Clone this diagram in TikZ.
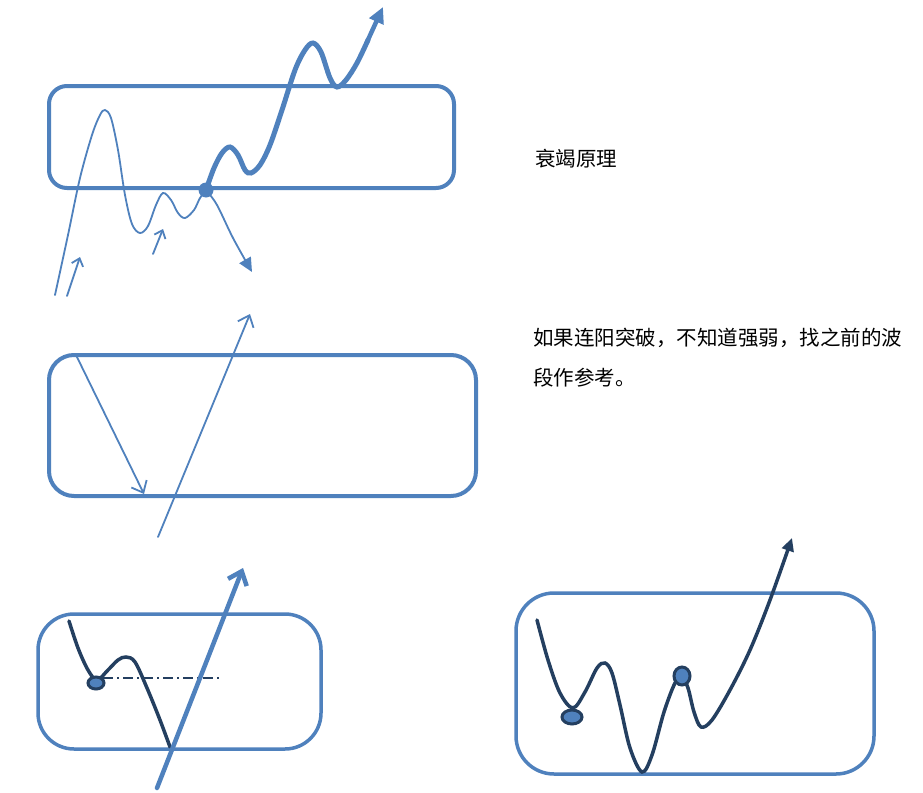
\documentclass[tikz,border=0pt]{standalone}
\usepackage{fontspec}
\newfontfamily\cjk{Noto Sans CJK SC}
\usetikzlibrary{arrows.meta}
\definecolor{ob}{RGB}{79,129,189}
\definecolor{db}{RGB}{36,63,96}
\tikzset{
  boxline/.style={draw=ob, line width=4pt},
  thinblue/.style={draw=ob, line width=1.8pt, line cap=round},
  thickblue/.style={draw=ob, line width=4.5pt, line cap=round},
  darkline/.style={draw=db, line width=3.5pt, line cap=round},
  openhead/.style={-{Straight Barb[length=10pt,width=17pt]}},
  smallhead/.style={-{Straight Barb[length=7pt,width=12pt]}},
  lbl/.style={font=\cjk\fontsize{20.5}{40}\selectfont, anchor=base west, inner sep=0pt, text=black},
  dotmark/.style={fill=ob, draw=db, line width=3pt}
}
\begin{document}
\begin{tikzpicture}[x=1pt,y=-1pt]
\useasboundingbox[fill=white] (0,0) rectangle (923,792);

% ---------- panel 1 ----------
\draw[boxline, rounded corners=18pt] (49,86) rectangle (454,188);
\draw[thinblue] plot[smooth,tension=0.55] coordinates {(55,295) (68,235) (80,178) (92,135) (100,115) (105,110) (111,118) (118,150) (125,195) (132,224) (140,233) (148,226) (156,205) (163,193) (171,200) (178,213) (185,218) (194,210) (200,198) (206,190)};
\draw[thinblue, -{Triangle[length=14pt,width=13pt]}] plot[smooth,tension=0.55] coordinates {(206,190) (217,205) (233,238) (252,272)};
\draw[thickblue, line width=5pt] plot[smooth,tension=0.55] coordinates {(206,190) (214,168) (222,153) (230,147) (238,155) (245,170) (251,173) (260,165) (270,145) (282,110) (295,70) (305,50) (313,43) (321,52) (330,78) (337,87) (346,80) (357,63) (368,40)};
\draw[thickblue, line width=4.5pt, -{Triangle[length=16pt,width=15pt]}] (367,42) -- (383,7);
\fill[ob] (206,190) circle (7.5pt);
\draw[thinblue, smallhead] (67,296) -- (80,257);
\draw[thinblue, smallhead] (153,254) -- (163,229);

% ---------- panel 2 ----------
\draw[boxline, rounded corners=25pt] (49,355) rectangle (476,496);
\draw[thinblue, openhead] (76,355) -- (144,494);
\draw[thinblue, openhead] (158,537) -- (250,314);

% ---------- panel 3 ----------
\draw[boxline, line width=3.5pt, rounded corners=36pt] (38,614) rectangle (321,749);
\draw[db, line width=1.3pt, dash pattern=on 10pt off 4pt on 2pt off 4pt] (103,678) -- (220,678);
\draw[darkline] plot[smooth,tension=0.55] coordinates {(69,621) (78,648) (88,670) (97,680) (108,670) (118,660) (126,657) (135,662) (147,688) (160,720) (170,747)};
\draw[dotmark] (96,683) ellipse (8pt and 6pt);
\draw[thickblue, -{Straight Barb[length=12pt,width=20pt]}] (157,788) -- (243,568);

% ---------- panel 4 ----------
\draw[boxline, line width=3.5pt, rounded corners=38pt] (516,593) rectangle (874,774);
\draw[darkline, -{Triangle[length=13pt,width=12pt]}] plot[smooth,tension=0.55] coordinates {(537,620) (548,660) (560,693) (573,708) (585,692) (597,668) (605,663) (612,673) (620,705) (630,748) (642,772) (652,755) (664,712) (675,683) (682,677) (688,688) (694,712) (701,727) (712,720) (730,690) (750,650) (770,600) (792,538)};
\draw[dotmark] (572,717) ellipse (10pt and 7pt);
\draw[dotmark] (682,676) ellipse (8pt and 9pt);

% ---------- texts ----------
\node[lbl] (t1) at (535,166) {衰竭原理};
\node[lbl] (t2) at (533,345) {如果连阳突破，不知道强弱，找之前的波};
\node[lbl] (t3) at (533,385) {段作参考。};
\end{tikzpicture}
\end{document}
